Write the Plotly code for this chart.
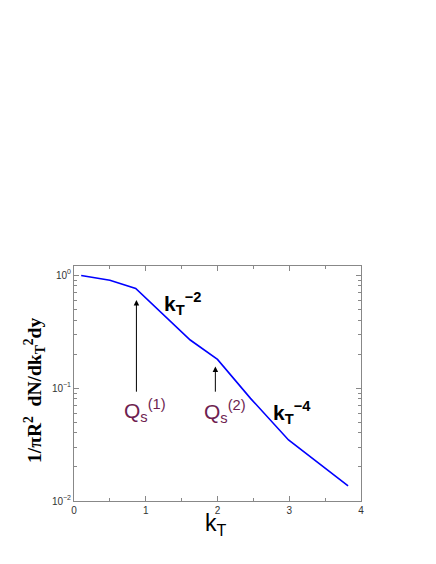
import math
import plotly.graph_objects as go

# spectrum
kt = [0.1, 0.5, 0.86, 1.62, 2.0, 2.46, 2.99, 3.82]
dndkt = [0.99, 0.90, 0.76, 0.266, 0.179, 0.081, 0.0347, 0.0136]

# saturation scale arrows: x, tip, tail
qs_x = [0.87, 1.97]
qs_tip = [0.60, 0.155]
qs_tail = [0.090, 0.090]
qs_labels = ["Q<sub>s</sub><sup>(1)</sup>", "Q<sub>s</sub><sup>(2)</sup>"]
qs_label_x = [0.99, 2.11]
qs_label_y = [0.063, 0.062]

# power-law labels
pl_labels = ["<b>k<sub>T</sub><sup>−2</sup></b>", "<b>k<sub>T</sub><sup>−4</sup></b>"]
pl_x = [1.51, 3.04]
pl_y = [0.565, 0.0607]

y_major = [1, 0.1, 0.01]
y_major_text = ["10<sup>0</sup>", "10<sup>−1</sup>", "10<sup>−2</sup>"]
y_minor = [m * d for d in [0.01, 0.1, 1] for m in range(2, 10) if m * d < 1.2]

fig = go.Figure()
fig.add_trace(go.Scatter(x=kt, y=dndkt, mode="lines",
                         line=dict(color="#0000ff", width=1.6),
                         showlegend=False, hoverinfo="skip"))

annotations = []
for x, tip, tail in zip(qs_x, qs_tip, qs_tail):
    annotations.append(dict(
        x=x, y=math.log10(tip), ax=x, ay=math.log10(tail),
        xref="x", yref="y", axref="x", ayref="y",
        text="", showarrow=True, arrowhead=2, arrowsize=1.1,
        arrowwidth=1, arrowcolor="#000000"))
for t, x, y in zip(qs_labels, qs_label_x, qs_label_y):
    annotations.append(dict(
        x=x, y=math.log10(y), xref="x", yref="y", text=t, showarrow=False,
        font=dict(family="Liberation Sans", size=21, color="#6e1e50")))
for t, x, y in zip(pl_labels, pl_x, pl_y):
    annotations.append(dict(
        x=x, y=math.log10(y), xref="x", yref="y", text=t, showarrow=False,
        font=dict(family="Liberation Sans", size=21, color="#000000")))

# axis titles
annotations.append(dict(x=1.98, y=-0.102, xref="x", yref="paper", text="k<sub>T</sub>",
                        showarrow=False, xanchor="center", yanchor="middle",
                        font=dict(family="Liberation Sans", size=23, color="#000000")))
annotations.append(dict(x=-0.14, y=0.472, xref="paper", yref="paper", textangle=-90,
                        text="<b>1/πR<sup>2</sup>  dN/dk<sub>T</sub><sup>2</sup>dy</b>",
                        showarrow=False, xanchor="center", yanchor="middle",
                        font=dict(family="Liberation Serif", size=19.5, color="#000000")))

fig.update_layout(
    width=436, height=564,
    margin=dict(l=66, r=83, t=258, b=71),
    paper_bgcolor="white", plot_bgcolor="white",
    annotations=annotations,
    font=dict(family="Liberation Sans", color="#333333"),
)
fig.update_xaxes(
    range=[0, 4], tickvals=[0, 1, 2, 3, 4], automargin=False,
    ticks="inside", ticklen=5, tickcolor="#888888",
    minor=dict(tickvals=[0.5, 1.5, 2.5, 3.5], ticks="inside", ticklen=3, tickcolor="#888888"),
    showline=True, linecolor="#888888", linewidth=1, mirror="allticks",
    showgrid=False, zeroline=False,
    tickfont=dict(size=10, color="#333333"),
)
fig.update_yaxes(
    type="log", range=[-2, 0.08], automargin=False,
    tickvals=y_major, ticktext=y_major_text,
    ticks="inside", ticklen=5, tickcolor="#888888",
    minor=dict(tickvals=y_minor, ticks="inside", ticklen=3, tickcolor="#888888"),
    showline=True, linecolor="#888888", linewidth=1, mirror="allticks",
    showgrid=False, zeroline=False,
    tickfont=dict(size=10, color="#333333"),
)

fig.write_html("out.html")
